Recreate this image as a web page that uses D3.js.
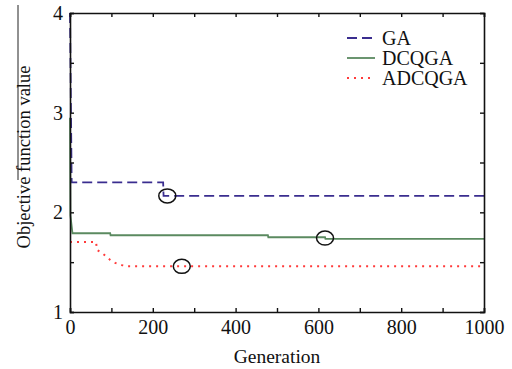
<!DOCTYPE html>
<html>
<head>
<meta charset="utf-8">
<script src="https://cdn.jsdelivr.net/npm/d3@7"></script>
<style>
  body { margin: 0; background: #fff; }
  text { font-family: "Liberation Serif", "DejaVu Serif", serif; fill: #111; }
</style>
</head>
<body>
<div id="chart"></div>
<script>
// Series data (generation, objective value)
const gaGen = [0, 4, 225, 226, 1000];
const gaVal = [4, 2.3, 2.3, 2.165, 2.165];

const dcqgaGen = [0, 1, 6, 97, 98, 478, 479, 616, 617, 1000];
const dcqgaVal = [2.95, 1.97, 1.79, 1.79, 1.77, 1.77, 1.75, 1.75, 1.733, 1.733];

const adcqgaGen = [0, 63, 65, 77, 89, 97, 109, 126, 140, 1000];
const adcqgaVal = [1.703, 1.703, 1.623, 1.593, 1.553, 1.523, 1.493, 1.47, 1.458, 1.458];

// highlighted points (circles)
const markGen = [235, 270, 616];
const markVal = [2.165, 1.458, 1.742];

const xTicks = [0, 200, 400, 600, 800, 1000];
const yTicks = [1, 2, 3, 4];
const seriesNames = ["GA", "DCQGA", "ADCQGA"];

const width = 512;
const height = 369;
const margin = { top: 13, right: 28, bottom: 57, left: 70 };

const svg = d3.select("#chart")
  .append("svg")
  .attr("width", width)
  .attr("height", height);

const x = d3.scaleLinear().domain([0, 1000]).range([margin.left, width - margin.right]);
const y = d3.scaleLinear().domain([1, 4]).range([height - margin.bottom, margin.top]);

// stray line left of the y label
svg.append("line")
  .attr("x1", 18).attr("x2", 18)
  .attr("y1", 5).attr("y2", 180)
  .attr("stroke", "#222").attr("stroke-width", 1);

// Series
const line = d3.line().x((d) => x(d[0])).y((d) => y(d[1]));
const series = [
  { gen: gaGen, val: gaVal, color: "#3a2d8f", dash: "10,5", w: 1.8 },
  { gen: dcqgaGen, val: dcqgaVal, color: "#5b8a60", dash: null, w: 1.8 },
  { gen: adcqgaGen, val: adcqgaVal, color: "#ff3b3b", dash: "2,5", w: 2 }
];

series.forEach((s) => {
  svg.append("path")
    .datum(s.gen.map((g, i) => [g, s.val[i]]))
    .attr("fill", "none")
    .attr("stroke", s.color)
    .attr("stroke-width", s.w)
    .attr("stroke-dasharray", s.dash)
    .attr("d", line);
});

// Circles
markGen.forEach((g, i) => {
  svg.append("ellipse")
    .attr("cx", x(g))
    .attr("cy", y(markVal[i]))
    .attr("rx", 8.5)
    .attr("ry", 7)
    .attr("fill", "none")
    .attr("stroke", "#111")
    .attr("stroke-width", 1.5);
});

// Axes with inward ticks on all sides
const tickLen = 4;
const axBottom = svg.append("g")
  .attr("transform", `translate(0, ${y(1)})`)
  .call(d3.axisBottom(x).ticks(10).tickSize(-tickLen).tickFormat((d) => (xTicks.includes(d) ? d : "")).tickPadding(8));
const axTop = svg.append("g")
  .attr("transform", `translate(0, ${y(4)})`)
  .call(d3.axisTop(x).ticks(10).tickSize(-tickLen).tickFormat(""));
const axLeft = svg.append("g")
  .attr("transform", `translate(${x(0)}, 0)`)
  .call(d3.axisLeft(y).tickValues(d3.range(1, 4.01, 0.5)).tickSize(-tickLen).tickFormat((d) => (yTicks.includes(d) ? d : "")).tickPadding(7));
const axRight = svg.append("g")
  .attr("transform", `translate(${x(1000)}, 0)`)
  .call(d3.axisRight(y).tickValues(d3.range(1, 4.01, 0.5)).tickSize(-tickLen).tickFormat(""));

[axBottom, axTop, axLeft, axRight].forEach((g) => {
  g.select(".domain").attr("stroke", "#111").attr("stroke-width", 1.6);
  g.selectAll(".tick line").attr("stroke", "#111").attr("stroke-width", 1.4);
  g.selectAll("text").attr("font-size", 20).attr("font-family", "Liberation Serif").attr("fill", "#111");
});

// Axis titles
svg.append("text")
  .attr("x", x(500))
  .attr("y", 363)
  .attr("text-anchor", "middle")
  .attr("font-size", 19.5)
  .text("Generation");

svg.append("text")
  .attr("transform", `translate(30, ${157}) rotate(-90)`)
  .attr("text-anchor", "middle")
  .attr("font-size", 18.5)
  .text("Objective function value");

// Legend
const legend = svg.append("g").attr("transform", "translate(347, 38)");
series.forEach((s, i) => {
  const row = legend.append("g").attr("transform", `translate(0, ${i * 20})`);
  row.append("line")
    .attr("x1", 0).attr("x2", 28)
    .attr("stroke", s.color)
    .attr("stroke-width", s.w)
    .attr("stroke-dasharray", s.dash);
  row.append("text")
    .attr("x", 35)
    .attr("dy", "0.35em")
    .attr("font-size", 20)
    .text(seriesNames[i]);
});
</script>
</body>
</html>
